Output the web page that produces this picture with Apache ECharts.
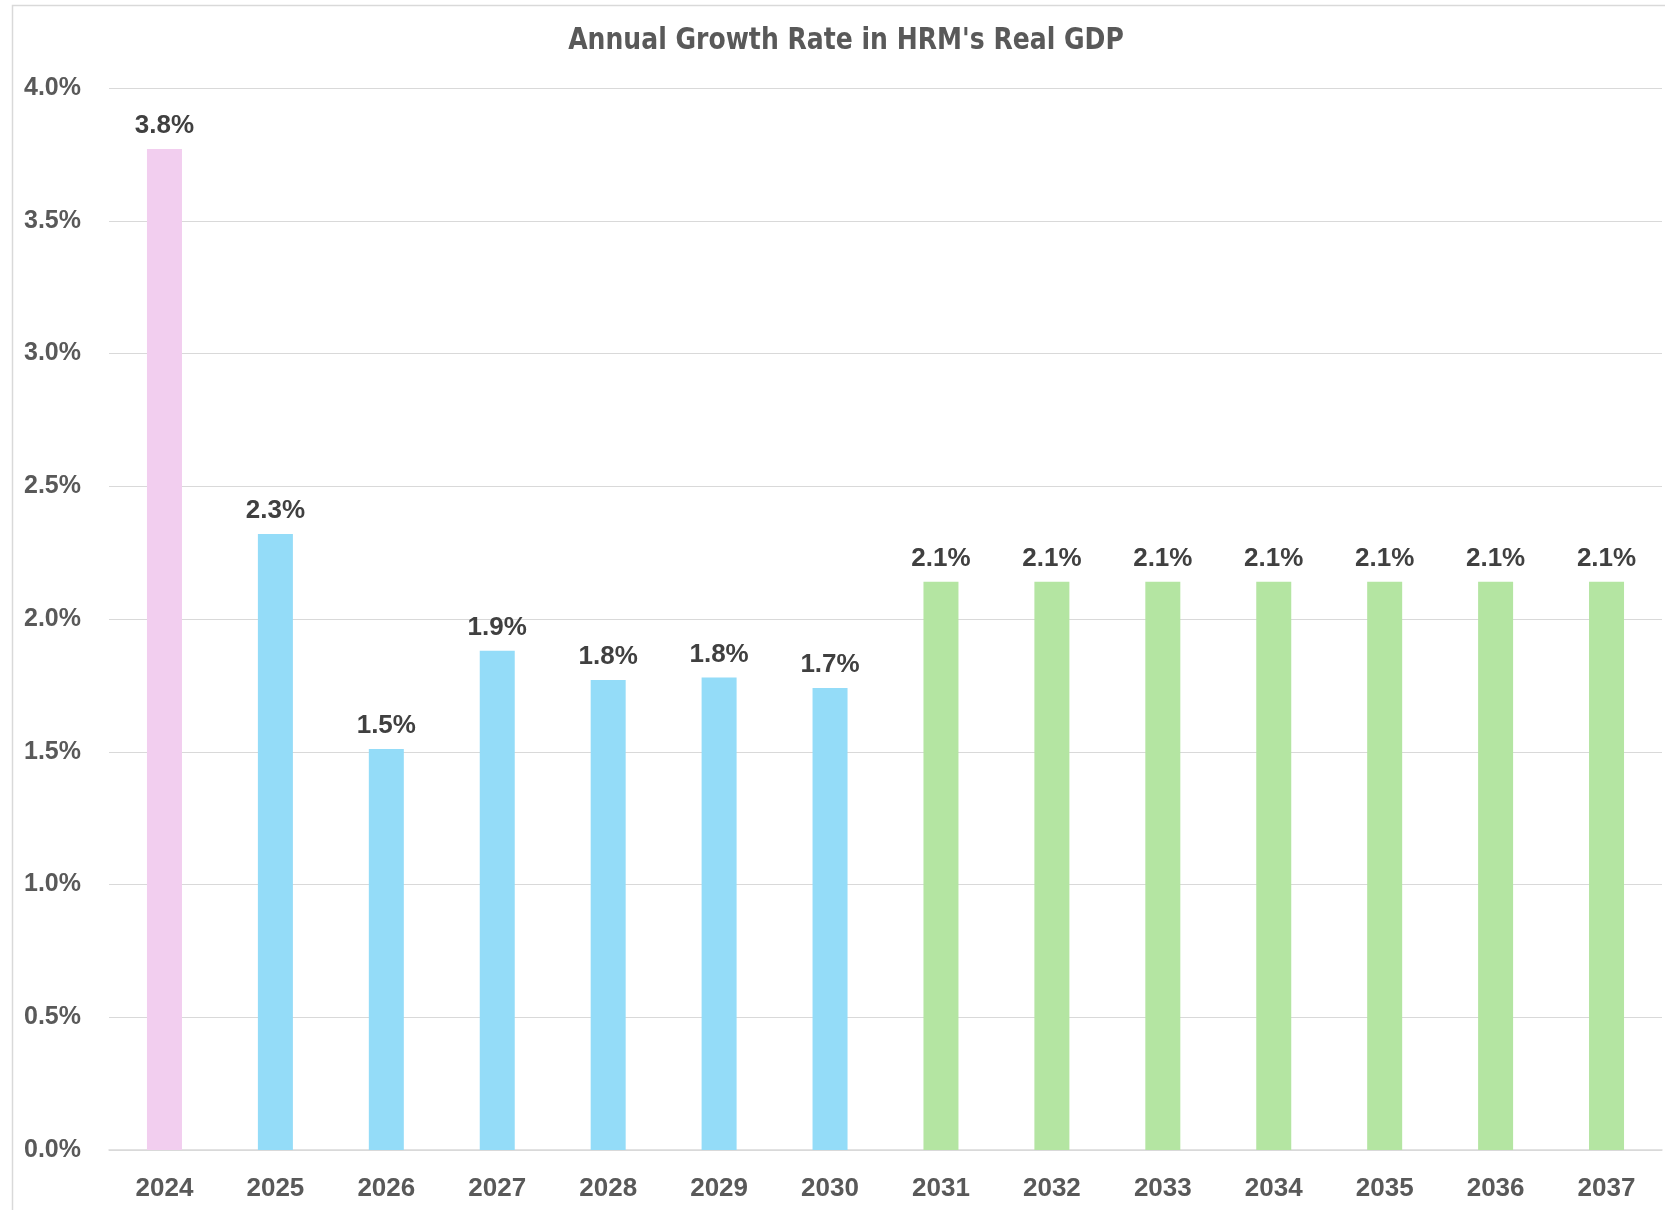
<!DOCTYPE html>
<html>
<head>
<meta charset="utf-8">
<script src="https://cdn.jsdelivr.net/npm/echarts@6/dist/echarts.min.js"></script>
<style>
html,body{margin:0;padding:0;background:#fff;}
#chart{width:1665px;height:1210px;}
</style>
</head>
<body>
<div id="chart"></div>
<script>
const titleText = "Annual Growth Rate in HRM's Real GDP";
const years = ['2024','2025','2026','2027','2028','2029','2030','2031','2032','2033','2034','2035','2036','2037'];
const growthRates = [3.77, 2.32, 1.51, 1.88, 1.77, 1.78, 1.74, 2.14, 2.14, 2.14, 2.14, 2.14, 2.14, 2.14];
const yTicks = [0, 0.5, 1.0, 1.5, 2.0, 2.5, 3.0, 3.5, 4.0];

function barColor(year) {
  const y = Number(year);
  if (y <= 2024) return '#F2CEEF';
  if (y <= 2030) return '#94DCF8';
  return '#B4E5A2';
}

const chart = echarts.init(document.getElementById('chart'));
chart.setOption({
  backgroundColor: '#ffffff',
  animation: false,
  graphic: [{
    type: 'rect',
    shape: { x: 12.5, y: 5.5, width: 1700, height: 1300 },
    style: { fill: 'none', stroke: '#d9d9d9', lineWidth: 1.5 },
    silent: true
  }, {
    type: 'text',
    x: 846,
    y: 41,
    scaleX: 0.93,
    style: {
      text: titleText,
      align: 'center',
      verticalAlign: 'middle',
      font: "bold 30px 'DejaVu Sans Condensed', sans-serif",
      fill: '#595959'
    },
    silent: true
  }],
  grid: { left: 109, right: 3, top: 88, bottom: 60, containLabel: false },
  xAxis: {
    type: 'category',
    data: years,
    axisLine: { show: true, lineStyle: { color: '#d9d9d9', width: 1.5 } },
    axisTick: { show: false },
    axisLabel: {
      color: '#595959',
      fontFamily: "'Liberation Sans', Arial, sans-serif",
      fontWeight: 'bold',
      fontSize: 26,
      margin: 26
    }
  },
  yAxis: {
    type: 'value',
    min: yTicks[0],
    max: yTicks[yTicks.length - 1],
    interval: 0.5,
    axisLine: { show: false },
    axisTick: { show: false },
    splitLine: { lineStyle: { color: '#d9d9d9', width: 1.2 } },
    axisLabel: {
      color: '#595959',
      fontFamily: "'Liberation Sans', Arial, sans-serif",
      fontWeight: 'bold',
      fontSize: 25,
      margin: 28,
      padding: [6, 0, 0, 0],
      formatter: v => v.toFixed(1) + '%'
    }
  },
  series: [{
    type: 'bar',
    data: growthRates,
    barWidth: 35,
    itemStyle: { color: p => barColor(years[p.dataIndex]) },
    label: {
      show: true,
      position: 'top',
      distance: 10,
      color: '#404040',
      fontFamily: "'Liberation Sans', Arial, sans-serif",
      fontWeight: 'bold',
      fontSize: 26,
      formatter: p => p.value.toFixed(1) + '%'
    }
  }]
});
</script>
</body>
</html>
